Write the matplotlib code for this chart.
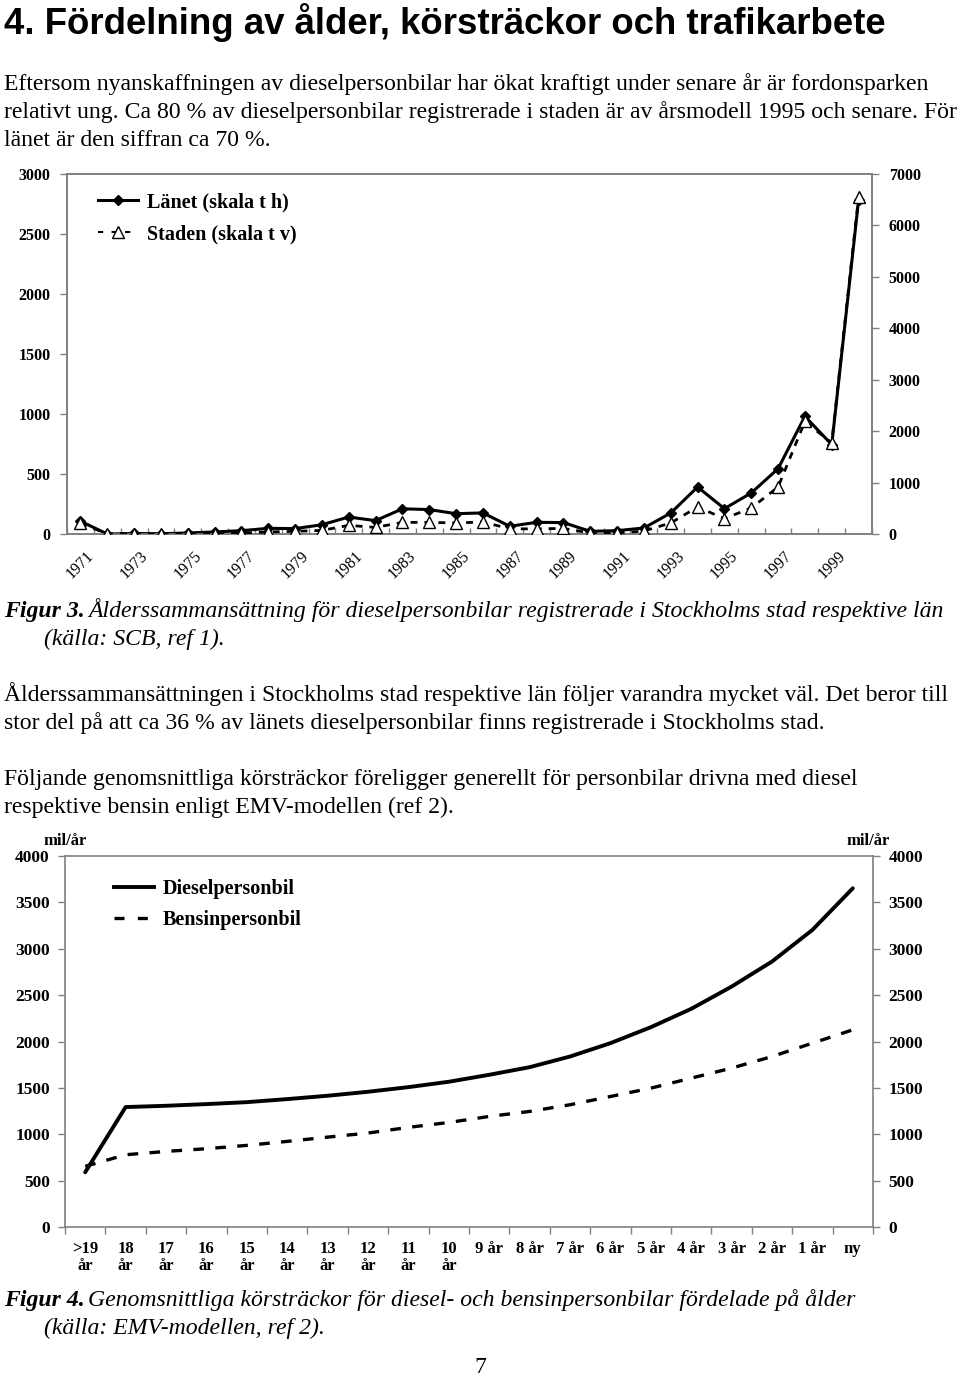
import numpy as np
import matplotlib
matplotlib.use("Agg")
import matplotlib.pyplot as plt
from matplotlib.lines import Line2D

# Figur 3: antal dieselpersonbilar per årsmodell
years = list(range(1971, 2001))
lanet = [250, 0, 10, 5, 20, 40, 65, 110, 105, 180, 330, 260, 490, 475, 395, 410,
         150, 227, 222, 52, 65, 117, 408, 914, 493, 798, 1270, 2288, 1737, 6495]
staden = [90, 0, 3, 0, 3, 3, 8, 17, 22, 30, 72, 55, 97, 97, 92, 100,
          44, 42, 47, 8, 8, 25, 92, 225, 128, 217, 391, 938, 758, 2811]
left_ticks1 = [0, 500, 1000, 1500, 2000, 2500, 3000]
right_ticks1 = [0, 1000, 2000, 3000, 4000, 5000, 6000, 7000]

# Figur 4: körsträcka (mil/år) per ålder
ages = [">19\når", "18\når", "17\når", "16\når", "15\når", "14\når", "13\når",
        "12\når", "11\når", "10\når", "9 år", "8 år", "7 år", "6 år", "5 år",
        "4 år", "3 år", "2 år", "1 år", "ny"]
diesel = [590, 1293, 1307, 1325, 1346, 1379, 1415, 1458, 1508, 1566,
          1641, 1723, 1838, 1982, 2154, 2352, 2592, 2862, 3203, 3652]
bensin = [654, 779, 815, 844, 880, 923, 969, 1013, 1074, 1127,
          1192, 1246, 1318, 1407, 1497, 1605, 1713, 1838, 1982, 2126]
ticks2 = [0, 500, 1000, 1500, 2000, 2500, 3000, 3500, 4000]

SERIF = ["Liberation Serif", "DejaVu Serif"]
SANS = ["Liberation Sans", "DejaVu Sans"]
GRAY = "#808080"
W, H = 960, 1379

fig = plt.figure(figsize=(9.6, 13.79), dpi=100)


def fx(x):
    return x / W


def fy(y):
    return 1 - y / H


def style_spines(ax):
    for s in ax.spines.values():
        s.set_color(GRAY)
        s.set_linewidth(1.2)
    ax.tick_params(which="both", color=GRAY, width=1.0, labelcolor="black")


def font_labels(labels, size, weight="bold"):
    for t in labels:
        t.set_fontfamily(SERIF)
        t.set_fontsize(size)
        t.set_fontweight(weight)
        t.set_color("black")


# --- texter ---
fig.text(fx(4), fy(34), "4. Fördelning av ålder, körsträckor och trafikarbete",
         family=SANS, fontweight="bold", fontsize=26.4, va="baseline")

body = 17.1
para1 = ["Eftersom nyanskaffningen av dieselpersonbilar har ökat kraftigt under senare år är fordonsparken",
         "relativt ung. Ca 80 % av dieselpersonbilar registrerade i staden är av årsmodell 1995 och senare. För",
         "länet är den siffran ca 70 %."]
for i, line in enumerate(para1):
    fig.text(fx(4), fy(90 + 28 * i), line, family=SERIF, fontsize=body, va="baseline")

fig.text(fx(4), fy(617), "Figur 3.", family=SERIF, fontsize=body, fontweight="bold",
         style="italic", va="baseline")
fig.text(fx(88), fy(617), "Ålderssammansättning för dieselpersonbilar registrerade i Stockholms stad respektive län",
         family=SERIF, fontsize=body, style="italic", va="baseline")
fig.text(fx(44), fy(645), "(källa: SCB, ref 1).", family=SERIF, fontsize=body,
         style="italic", va="baseline")

para2 = ["Ålderssammansättningen i Stockholms stad respektive län följer varandra mycket väl. Det beror till",
         "stor del på att ca 36 % av länets dieselpersonbilar finns registrerade i Stockholms stad."]
for i, line in enumerate(para2):
    fig.text(fx(4), fy(701 + 28 * i), line, family=SERIF, fontsize=body, va="baseline")

para3 = ["Följande genomsnittliga körsträckor föreligger generellt för personbilar drivna med diesel",
         "respektive bensin enligt EMV-modellen (ref 2)."]
for i, line in enumerate(para3):
    fig.text(fx(4), fy(785 + 28 * i), line, family=SERIF, fontsize=body, va="baseline")

fig.text(fx(4), fy(1306), "Figur 4.", family=SERIF, fontsize=body, fontweight="bold",
         style="italic", va="baseline")
fig.text(fx(88), fy(1306), "Genomsnittliga körsträckor för diesel- och bensinpersonbilar fördelade på ålder",
         family=SERIF, fontsize=body, style="italic", va="baseline")
fig.text(fx(44), fy(1334), "(källa: EMV-modellen, ref 2).", family=SERIF, fontsize=body,
         style="italic", va="baseline")
fig.text(fx(480), fy(1378), "7", family=SERIF, fontsize=body, ha="center", va="bottom")

# --- Figur 3 ---
ax1 = fig.add_axes([fx(67), fy(534), fx(872 - 67), (534 - 174) / H])
ax1b = ax1.twinx()
x1 = np.arange(len(years))

ax1.plot(x1, lanet, color="black", lw=2.2, marker="D", ms=5, mfc="black", mec="black",
         zorder=3)
ax1.set_ylim(0, 7000)
ax1.set_xlim(-0.5, len(years) - 0.5)
ax1.set_yticks(right_ticks1)
ax1.set_yticklabels([str(v) for v in right_ticks1])
ax1.yaxis.tick_right()
ax1.set_xticks(np.arange(-0.5, len(years), 1.0))
ax1.set_xticklabels([])
ax1.set_xticks(x1[::2], minor=True)
ax1.set_xticklabels([str(y) for y in years[::2]], minor=True)

ax1b.plot(x1, staden, color="black", lw=2.0, ls=(0, (2.5, 2.5)), marker="^", ms=8,
          mfc="white", mec="black", mew=1.0, zorder=4)
ax1b.set_ylim(0, 3000)
ax1b.set_yticks(left_ticks1)
ax1b.set_yticklabels([str(v) for v in left_ticks1])
ax1b.yaxis.tick_left()

for a in (ax1, ax1b):
    style_spines(a)
    a.tick_params(axis="y", length=5, pad=7)
ax1.tick_params(axis="x", which="major", direction="in", length=4)
ax1.tick_params(axis="x", which="minor", length=0, pad=10)

font_labels(ax1.get_yticklabels(), 11.5)
font_labels(ax1b.get_yticklabels(), 11.5)
for t in ax1.get_xticklabels(minor=True):
    t.set_fontfamily(SERIF)
    t.set_fontsize(11.5)
    t.set_rotation(45)
    t.set_ha("center")
    t.set_va("top")
    t.set_color("black")

h1 = [Line2D([], [], color="black", lw=2.2, marker="D", ms=5),
      Line2D([], [], color="black", lw=1.5, ls=(0, (2.5, 4)), marker="^", ms=8,
             mfc="white", mec="black")]
ax1b.legend(h1, ["Länet (skala t h)", "Staden (skala t v)"], loc="upper left",
            bbox_to_anchor=(fx(80), fy(174)), bbox_transform=fig.transFigure,
            frameon=False, handlelength=2.0, handletextpad=0.45, labelspacing=0.6,
            prop={"family": SERIF, "weight": "bold", "size": 14.5})

# --- Figur 4 ---
ax2 = fig.add_axes([fx(65), fy(1227), fx(873 - 65), (1227 - 856) / H])
x2 = np.arange(len(ages))
ax2.plot(x2, diesel, color="black", lw=2.8, solid_capstyle="round")
ax2.plot(x2, bensin, color="black", lw=2.4, ls=(0, (3.2, 3.4)))
ax2.set_xlim(-0.5, len(ages) - 0.5)
ax2.set_ylim(0, 4000)
ax2.set_yticks(ticks2)
ax2.set_yticklabels([str(v) for v in ticks2])
ax2.set_xticks(np.arange(-0.5, len(ages), 1.0))
ax2.set_xticklabels([])
ax2.set_xticks(x2, minor=True)
ax2.set_xticklabels(ages, minor=True)
style_spines(ax2)
ax2.tick_params(axis="x", which="major", direction="out", length=5)
ax2.tick_params(axis="x", which="minor", length=0, pad=10)
ax2.tick_params(axis="y", length=5, pad=6, labelleft=True, labelright=True,
                left=True, right=True)
for tick in ax2.yaxis.get_major_ticks():
    for t in (tick.label1, tick.label2):
        t.set_fontfamily(SERIF)
        t.set_fontsize(12.5)
        t.set_fontweight("bold")
for t in ax2.get_xticklabels(minor=True):
    t.set_fontfamily(SERIF)
    t.set_fontsize(12)
    t.set_fontweight("bold")
    t.set_va("top")
    t.set_linespacing(1.1)
ax2.text(0.0, 1.02, "mil/år", transform=ax2.transAxes, ha="center", va="bottom",
         family=SERIF, fontweight="bold", fontsize=12)
ax2.text(0.994, 1.02, "mil/år", transform=ax2.transAxes, ha="center", va="bottom",
         family=SERIF, fontweight="bold", fontsize=12)

h2 = [Line2D([], [], color="black", lw=2.8),
      Line2D([], [], color="black", lw=2.4, ls=(0, (3, 4)))]
ax2.legend(h2, ["Dieselpersonbil", "Bensinpersonbil"], loc="upper left",
           bbox_to_anchor=(fx(96), fy(861)), bbox_transform=fig.transFigure,
           frameon=False, handlelength=2.0, handletextpad=0.4, labelspacing=0.55,
           prop={"family": SERIF, "weight": "bold", "size": 14.5})

fig.savefig("out.png", dpi=100)
